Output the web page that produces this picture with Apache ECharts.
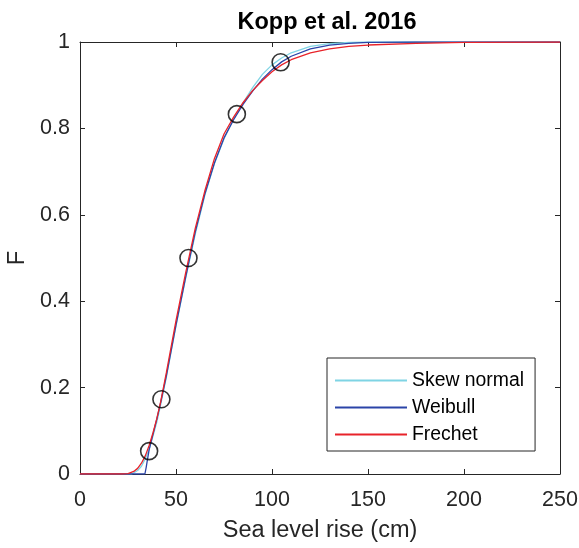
<!DOCTYPE html>
<html>
<head>
<meta charset="utf-8">
<script src="https://cdn.jsdelivr.net/npm/echarts@6/dist/echarts.min.js"></script>
<style>html,body{margin:0;padding:0;background:#fff;}#chart{width:579px;height:548px;}</style>
</head>
<body>
<div id="chart"></div>
<script>
const titleText = 'Kopp et al. 2016';
const xTicks = [0, 50, 100, 150, 200, 250];
const yTicks = [0, 0.2, 0.4, 0.6, 0.8, 1];

const skewX = [0,27,30,32,34,36,38,40,42,45,50,55,60,65,70,75,80,85,90,95,100,105,110,120,130,140,150,250];
const skewF = [0,0,0.008,0.018,0.035,0.058,0.088,0.12,0.16,0.225,0.343,0.452,0.555,0.645,0.718,0.776,0.822,0.86,0.895,0.925,0.947,0.963,0.975,0.99,0.996,0.999,1,1];

const weibX = [0,33.8,34.5,35,36,38,40,42,45,50,55,60,65,70,75,80,85,90,95,100,105,110,120,130,140,150,175,250];
const weibF = [0,0,0.016,0.03,0.056,0.092,0.127,0.165,0.228,0.345,0.455,0.56,0.648,0.72,0.778,0.82,0.856,0.887,0.914,0.936,0.954,0.967,0.984,0.993,0.997,0.999,1,1];

const frecX = [0,22,25,28,30,32,34,36,38,40,42,45,50,55,60,65,70,75,80,85,90,95,100,105,110,120,130,140,150,175,200,250];
const frecF = [0,0,0.001,0.006,0.013,0.025,0.042,0.066,0.095,0.128,0.167,0.235,0.355,0.465,0.568,0.655,0.73,0.787,0.826,0.86,0.888,0.911,0.931,0.947,0.959,0.975,0.984,0.99,0.993,0.997,0.999,1];

const pointX = [36, 42.4, 56.5, 81.7, 104.5];
const pointF = [0.053, 0.173, 0.5, 0.833, 0.953];

const seriesNames = ['Skew normal', 'Weibull', 'Frechet'];
const seriesColors = ['#7fd4e4', '#2b44a8', '#e8232a'];

const zip = (xs, ys) => xs.map((x, i) => [x, ys[i]]);
const curves = [zip(skewX, skewF), zip(weibX, weibF), zip(frecX, frecF)];

const FONT = '"Liberation Sans", Helvetica, Arial, sans-serif';
const AX = '#262626';

const chart = echarts.init(document.getElementById('chart'), null, {renderer: 'canvas'});

const baseAxisStyle = {
  axisLine: {show: true, onZero: false, lineStyle: {color: AX, width: 1}},
  axisTick: {show: true, inside: true, length: 5, lineStyle: {color: AX}},
  splitLine: {show: false}
};

chart.setOption({
  animation: false,
  backgroundColor: '#fff',
  title: {
    text: titleText, left: 322, top: 6, textAlign: 'center',
    textStyle: {fontFamily: FONT, fontSize: 23.5, fontWeight: 'bold', color: '#000'}
  },
  grid: {left: 80, right: 19, top: 42, bottom: 74, containLabel: false, outerBoundsMode: 'none'},
  legend: {
    orient: 'vertical', left: 327, top: 358,
    data: seriesNames,
    icon: 'rect', itemWidth: 72, itemHeight: 2, itemGap: 8,
    padding: [13, 11, 7, 8],
    borderColor: AX, borderWidth: 1, backgroundColor: '#fff',
    textStyle: {fontFamily: FONT, fontSize: 19.4, color: '#000'}
  },
  xAxis: [{
    type: 'value', min: 0, max: 250, interval: 50, position: 'bottom',
    name: 'Sea level rise (cm)', nameLocation: 'middle', nameGap: 45,
    nameTextStyle: {fontFamily: FONT, fontSize: 23.5, color: AX},
    axisLabel: {fontFamily: FONT, fontSize: 21.5, color: AX, margin: 15},
    ...baseAxisStyle
  }, {
    type: 'value', min: 0, max: 250, interval: 50, position: 'top',
    axisLabel: {show: false}, ...baseAxisStyle
  }],
  yAxis: [{
    type: 'value', min: 0, max: 1, interval: 0.2, position: 'left',
    name: 'F', nameLocation: 'middle', nameGap: 38, nameRotate: 90,
    nameTextStyle: {fontFamily: FONT, fontSize: 23.5, color: AX},
    axisLabel: {fontFamily: FONT, fontSize: 21.5, color: AX, margin: 10},
    ...baseAxisStyle
  }, {
    type: 'value', min: 0, max: 1, interval: 0.2, position: 'right',
    axisLabel: {show: false}, ...baseAxisStyle
  }],
  series: [
    ...seriesNames.map((n, i) => ({
      name: n, type: 'line', data: curves[i],
      xAxisIndex: 0, yAxisIndex: 0,
      showSymbol: false, symbol: 'none',
      smooth: false,
      lineStyle: {color: seriesColors[i], width: 1.3},
      itemStyle: {color: seriesColors[i]},
      z: 2 + i
    })),
    {
      name: 'points', type: 'scatter', data: zip(pointX, pointF),
      symbol: 'circle', symbolSize: 17,
      itemStyle: {color: 'rgba(0,0,0,0)', borderColor: '#000', borderWidth: 1.6},
      z: 10
    }
  ]
});
</script>
</body>
</html>
